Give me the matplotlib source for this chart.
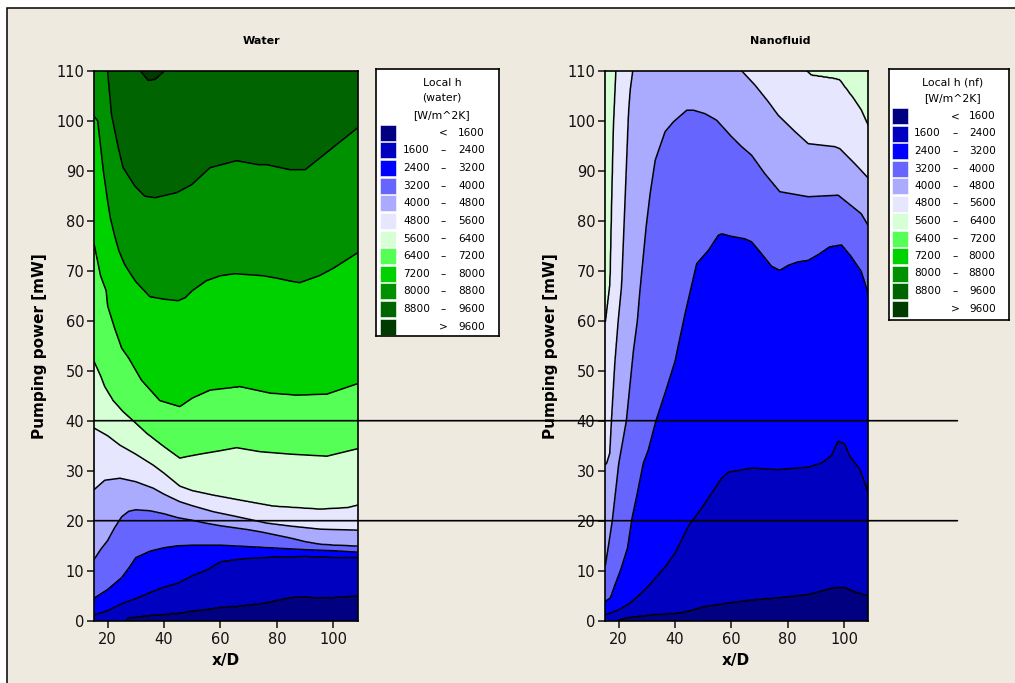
import numpy as np
import matplotlib
matplotlib.use('Agg')
import matplotlib.pyplot as plt
from matplotlib.patches import Rectangle, ConnectionPatch

# contour classes (local heat transfer coefficient, W/m^2K)
h_levels = [1600, 2400, 3200, 4000, 4800, 5600, 6400, 7200, 8000, 8800, 9600]
h_colors = ['#000080', '#0000C0', '#0000FF', '#6666FF', '#AAAAFF', '#E6E6FF',
            '#D6FFD6', '#55FF55', '#00D200', '#009100', '#006400', '#003C00']

# water: pumping power [mW] where each level is crossed, read along x/D
water_x_1600 = [15, 20, 26, 27.3, 35, 40, 46, 50, 55, 60, 65, 70, 75, 80, 85, 90, 95, 100, 108.6]
water_y_1600 = [-3, -2, -0.3, 0.6, 1.1, 1.3, 1.6, 2.0, 2.3, 2.7, 2.9, 3.2, 3.5, 4.1, 4.7, 4.8, 4.6, 4.7, 5.0]
water_x_2400 = [15, 20, 25, 30, 35, 40, 45, 50, 55, 60, 65, 70, 80, 90, 100, 108.6]
water_y_2400 = [1.1, 2.0, 3.4, 4.4, 5.6, 6.7, 7.5, 9.0, 10.1, 11.8, 12.2, 12.5, 12.8, 12.9, 12.7, 12.7]
water_x_3200 = [15, 20, 25, 27.5, 30, 35, 40, 45, 50, 60, 70, 80, 90, 100, 108.6]
water_y_3200 = [4.4, 6.2, 8.6, 10.5, 12.6, 13.9, 14.6, 15.0, 15.1, 15.1, 14.8, 14.5, 14.2, 14.0, 13.7]
water_x_4000 = [15, 17.5, 20, 22.5, 25, 27.5, 30, 35, 40, 45, 50, 55, 60, 65, 70, 75, 80, 85, 90, 95, 100, 108.6]
water_y_4000 = [12.0, 14.2, 16.0, 18.6, 20.8, 21.9, 22.2, 22.0, 21.4, 20.6, 20.1, 19.5, 19.0, 18.6, 18.2, 17.7,
                17.1, 16.5, 15.8, 15.3, 15.1, 14.9]
water_x_4800 = [15, 19, 24.4, 30, 36.2, 40, 45.6, 50, 57.4, 65, 76.4, 85, 95.3, 108.6]
water_y_4800 = [26.1, 28.1, 28.5, 27.8, 26.5, 25.3, 23.8, 23.0, 21.8, 20.9, 19.5, 18.9, 18.3, 18.1]
water_x_5600 = [15, 20, 24.4, 30, 36.2, 40, 45.6, 50, 57.4, 66.9, 78.7, 95.3, 105, 108.6]
water_y_5600 = [38.6, 37.0, 35.1, 33.3, 31.1, 29.5, 26.9, 26.0, 25.1, 24.1, 22.9, 22.3, 22.6, 23.1]
water_x_6400 = [15, 17.5, 19, 22, 25.5, 30, 33.8, 40, 45.6, 48, 52.7, 60, 65.7, 74, 85, 97.7, 108.6]
water_y_6400 = [52.1, 49.0, 46.8, 44.0, 41.8, 39.5, 37.5, 34.8, 32.5, 32.8, 33.3, 34.0, 34.6, 33.8, 33.3, 32.9, 34.4]
water_x_7200 = [15, 17.5, 19.5, 20, 22.5, 25, 27.5, 32, 38.5, 45.6, 50, 56.3, 66.9, 77.6, 87, 97.7, 108.6]
water_y_7200 = [76, 69, 66, 63, 58.5, 54.5, 52.5, 48.1, 44.0, 42.8, 44.5, 46.1, 46.8, 45.5, 45.1, 45.3, 47.4]
water_x_8000 = [15, 16.5, 18.5, 20, 21, 22.5, 24, 26, 28, 30, 35, 40, 45, 47.5, 50, 55, 60, 65, 70, 75,
                80, 85, 88, 90, 95, 100, 105, 108.6]
water_y_8000 = [101, 100, 90, 84, 80.5, 77, 74, 71.3, 69.5, 67.8, 64.8, 64.3, 64.0, 64.6, 66.0, 68.0, 69.0, 69.4,
                69.2, 69.0, 68.5, 67.9, 67.6, 68.0, 69.0, 70.5, 72.3, 73.6]
water_x_8800 = [15, 18, 20, 21.4, 23.8, 25.5, 29.7, 33.2, 36.8, 44.5, 49.8, 56.3, 65.7, 73.4, 76.4, 84.6, 90, 98.2, 108.6]
water_y_8800 = [130, 118, 110.1, 101.2, 94.6, 90.6, 86.9, 84.9, 84.6, 85.6, 87.2, 90.6, 92.0, 91.2, 91.2, 90.2, 90.2,
                93.9, 98.6]
water_x_9600 = [15, 20, 25, 30, 31.5, 34.4, 36.8, 40.3, 43, 50, 70, 108.6]
water_y_9600 = [140, 125, 116, 112, 110, 108, 108.2, 110, 112, 115, 118, 118]

# nanofluid
nano_x_1600 = [15, 18, 20, 23.5, 33, 40.1, 43.6, 50.7, 59, 67.2, 77.8, 87.3, 96.7, 100.2, 104, 108.6]
nano_y_1600 = [-1.5, -0.5, 0.2, 0.7, 1.3, 1.5, 1.8, 2.9, 3.6, 4.2, 4.7, 5.3, 6.7, 6.7, 5.8, 5.0]
nano_x_2400 = [15, 15.4, 19.9, 24.1, 27, 30.6, 36.5, 40.1, 44.8, 49.5, 56.6, 59, 67.2, 76.6, 87.3, 92, 95.5,
               97.9, 100.2, 102, 105.6, 108.6]
nano_y_2400 = [1.0, 1.2, 2.1, 3.5, 4.9, 6.9, 10.7, 13.5, 18.9, 22.5, 28.5, 29.7, 30.5, 30.2, 30.7, 31.5, 33.0,
               35.9, 35.4, 32.9, 30.3, 25.5]
nano_x_3200 = [15, 15.4, 17.1, 18.8, 20.8, 23.2, 24.8, 26.5, 28.8, 30.5, 33.3, 36.5, 40.1, 41.0, 43.6, 47.7,
               51.9, 55.4, 56.6, 60, 64.8, 67.2, 70.75, 74.3, 77.2, 80.2, 83.7, 87.3, 91, 94.9, 99.1, 102.6,
               106.1, 108.6]
nano_y_3200 = [3.7, 3.9, 4.5, 7.2, 10.2, 14.5, 20.5, 25.0, 31.5, 34.0, 40.0, 45.5, 52.0, 54.5, 61.4, 71.4,
               74.1, 77.1, 77.4, 76.9, 76.4, 75.8, 73.4, 70.9, 70.1, 71.1, 71.8, 72.1, 73.3, 74.8, 75.2, 72.8,
               69.9, 65.5]
nano_x_4000 = [15, 15.4, 17.8, 20.1, 22.8, 25.3, 26.7, 27.5, 29.8, 31.2, 33.0, 36.5, 39.5, 44.2, 46.6, 50.7,
               54.8, 60.1, 63.7, 67.2, 71.9, 77.2, 87.3, 97.9, 106.1, 108.6]
nano_y_4000 = [10.8, 11.2, 20.0, 31.5, 40.0, 54.0, 60.0, 65.4, 78.8, 85.4, 92.1, 97.8, 99.8, 102.1, 102.1, 101.4,
               100.1, 96.8, 94.8, 93.1, 89.4, 85.8, 84.8, 85.1, 81.4, 79.0]
nano_x_4800 = [15, 15.8, 16.9, 17.5, 18.7, 19.9, 21.1, 22.4, 23.5, 24.1, 25.1, 30, 40, 50, 57, 63.1, 68.4,
               73.1, 76.6, 82.6, 87.3, 96.7, 98.5, 103.8, 108.6]
nano_y_4800 = [31.0, 31.5, 33.5, 40.0, 51.5, 60.0, 67.0, 85.4, 101.4, 106.1, 110.3, 125, 135, 130, 118, 110.3,
               107.1, 103.8, 101.1, 97.8, 95.4, 94.8, 94.4, 91.4, 88.5]
nano_x_5600 = [15, 15.4, 17.0, 17.65, 18.2, 19.1, 20, 30, 50, 70, 80, 86.1, 88.4, 96.7, 98.5, 103.8, 106.1, 108.6]
nano_y_5600 = [59.5, 59.9, 67.5, 85.4, 98.8, 110.3, 116, 150, 160, 140, 120, 110.3, 109.1, 108.4, 108.1, 104.1,
               102.1, 99.0]

# the two reference lines at 40 and 20 mW
ref_power = [40, 20]

water_lines = [(1600, water_x_1600, water_y_1600), (2400, water_x_2400, water_y_2400),
               (3200, water_x_3200, water_y_3200), (4000, water_x_4000, water_y_4000),
               (4800, water_x_4800, water_y_4800), (5600, water_x_5600, water_y_5600),
               (6400, water_x_6400, water_y_6400), (7200, water_x_7200, water_y_7200),
               (8000, water_x_8000, water_y_8000), (8800, water_x_8800, water_y_8800),
               (9600, water_x_9600, water_y_9600)]
nano_lines = [(1600, nano_x_1600, nano_y_1600), (2400, nano_x_2400, nano_y_2400),
              (3200, nano_x_3200, nano_y_3200), (4000, nano_x_4000, nano_y_4000),
              (4800, nano_x_4800, nano_y_4800), (5600, nano_x_5600, nano_y_5600)]

X_MIN, X_MAX = 15.2, 108.6
xg = np.linspace(X_MIN, X_MAX, 500)
yg = np.linspace(0, 110, 700)


def build_grid(lines):
    # h(x, y): piecewise linear in y between the level crossings of each column
    Z = np.empty((len(yg), len(xg)))
    zs = [0] + [lev for lev, _, _ in lines] + [12000]
    for j, xv in enumerate(xg):
        ys = [-1000] + [np.interp(xv, lx, ly) for _, lx, ly in lines] + [1000]
        Z[:, j] = np.interp(yg, ys, zs)
    return Z


BG = '#EEEAE0'
W, H = 1015, 683
fig = plt.figure(figsize=(W / 100, H / 100), dpi=100, facecolor='white')
fig.add_artist(Rectangle((7 / W, -0.05), 1.2, 1.05 - 8 / H, transform=fig.transFigure,
                         facecolor=BG, edgecolor='black', lw=1.1, zorder=-10))

fill_levels = [-1] + h_levels + [13000]


def px_box(x0, y0, x1, y1):
    return [x0 / W, 1 - y1 / H, (x1 - x0) / W, (y1 - y0) / H]


panels = [
    (water_lines, px_box(94, 70.7, 357.7, 620.7), 'Water', 261.7, 40, 226),
    (nano_lines, px_box(605, 70.7, 868.3, 620.7), 'Nanofluid', 780, 551, 736),
]
axes = []
for lines, box, title, tx, ylx, xlx in panels:
    ax = fig.add_axes(box)
    Z = build_grid(lines)
    ax.contourf(xg, yg, Z, levels=fill_levels, colors=h_colors)
    ax.contour(xg, yg, Z, levels=h_levels, colors='black', linewidths=1.1)
    ax.set_xlim(X_MIN, X_MAX)
    ax.set_ylim(0, 110)
    ax.set_xticks([20, 40, 60, 80, 100])
    ax.set_yticks(range(0, 111, 10))
    ax.tick_params(direction='out', length=5, width=1.1, labelsize=10.5, colors='#111111')
    ax.tick_params(axis='y', pad=2)
    ax.tick_params(axis='x', pad=3)
    for s in ax.spines.values():
        s.set_linewidth(1.2)
    fig.text(tx / W, 1 - 41 / H, title, ha='center', va='center', fontsize=8, fontweight='bold')
    fig.text(ylx / W, 1 - 346 / H, 'Pumping power [mW]', rotation=90, ha='center', va='center',
             fontsize=11, fontweight='bold')
    fig.text(xlx / W, 1 - 661 / H, 'x/D', ha='center', va='center', fontsize=11, fontweight='bold')
    axes.append(ax)

# reference lines across both panels
for p in ref_power:
    con = ConnectionPatch(xyA=(X_MIN, p), coordsA=axes[0].transData,
                          xyB=(140.2, p), coordsB=axes[1].transData,
                          color='black', lw=1.2)
    fig.add_artist(con)


def draw_legend(box, title_lines, title_y, title_cx, row0, step, sw_x, col_lo, col_dash, col_hi):
    x0, y0, x1, y1 = box
    lax = fig.add_axes(px_box(x0, y0, x1, y1))
    lax.set_xlim(0, x1 - x0)
    lax.set_ylim(y1 - y0, 0)
    lax.set_xticks([])
    lax.set_yticks([])
    lax.set_facecolor('white')
    for s in lax.spines.values():
        s.set_linewidth(1.2)
    for t, ty in zip(title_lines, title_y):
        lax.text(title_cx, ty, t, ha='center', va='center', fontsize=7.8)
    n = len(h_colors)
    for i in range(n):
        yc = row0 + i * step
        lax.add_patch(Rectangle((sw_x, yc - 8), 16, 16, facecolor=h_colors[i],
                                edgecolor='white', lw=0.4))
        if i == 0:
            lax.text(col_dash, yc, '<', ha='center', va='center', fontsize=7.6)
            lax.text(col_hi, yc, str(h_levels[0]), ha='right', va='center', fontsize=7.6)
        elif i == n - 1:
            lax.text(col_dash, yc, '>', ha='center', va='center', fontsize=7.6)
            lax.text(col_hi, yc, str(h_levels[-1]), ha='right', va='center', fontsize=7.6)
        else:
            lax.text(col_lo, yc, str(h_levels[i - 1]), ha='right', va='center', fontsize=7.6)
            lax.text(col_dash, yc, '\u2013', ha='center', va='center', fontsize=7.6)
            lax.text(col_hi, yc, str(h_levels[i]), ha='right', va='center', fontsize=7.6)


draw_legend((376, 69.3, 499.3, 336), ['Local h', '(water)', '[W/m^2K]'], [13.4, 28, 45.7], 66,
            63.4, 17.64, 4, 54, 66.8, 109)
draw_legend((889.3, 69.3, 1009.3, 320), ['Local h (nf)', '[W/m^2K]'], [13.4, 29], 63,
            46.7, 17.5, 2.4, 51.7, 65.7, 106.4)

fig.savefig('out.png', dpi=100, facecolor=fig.get_facecolor())
